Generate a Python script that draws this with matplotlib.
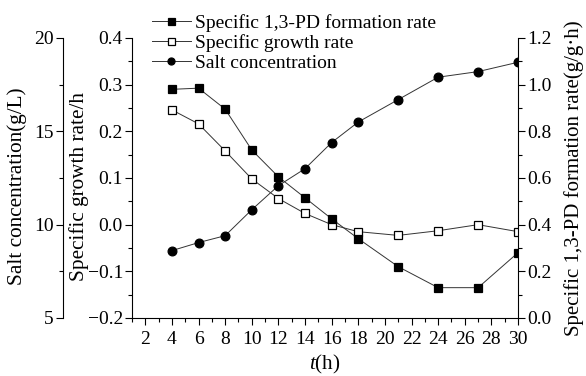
import matplotlib
matplotlib.use("Agg")
import matplotlib.pyplot as plt
from matplotlib.ticker import MultipleLocator
from matplotlib.lines import Line2D

plt.rcParams['font.family'] = ['Liberation Serif', 'DejaVu Serif']
plt.rcParams['mathtext.fontset'] = 'custom'
plt.rcParams['mathtext.it'] = 'Liberation Serif:italic'
plt.rcParams['mathtext.rm'] = 'Liberation Serif'

# data
t = [4, 6, 8, 10, 12, 14, 16, 18, 21, 24, 27, 30]
pd_rate = [0.98, 0.985, 0.895, 0.72, 0.605, 0.515, 0.425, 0.34, 0.22, 0.13, 0.13, 0.28]
growth_rate = [0.246, 0.216, 0.158, 0.098, 0.056, 0.024, 0.0, -0.015, -0.023, -0.013, 0.0, -0.015]
salt = [8.61, 9.04, 9.41, 10.8, 12.09, 13.0, 14.4, 15.5, 16.7, 17.9, 18.2, 18.7]

fs = 14     # ticks and legend
lfs = 15.3  # axis titles
fig = plt.figure(figsize=(5.86, 3.76), dpi=100)
ax = fig.add_axes([132 / 586, 1 - 318 / 376, 386 / 586, 280 / 376])
ax_salt = ax.twinx()
ax_pd = ax.twinx()

line_kw = dict(color='#333333', lw=0.7, markersize=6.3, markeredgecolor='black', markeredgewidth=0.9)

ax_pd.plot(t, pd_rate, marker='s', markerfacecolor='black', **line_kw)
ax.plot(t, growth_rate, marker='s', markerfacecolor='white', zorder=3, **line_kw)
ax_salt.plot(t, salt, marker='o', markerfacecolor='black', **line_kw)

# growth rate axis (inner left)
ax.set_xlim(1, 30)
ax.set_ylim(-0.2, 0.4)
ax.xaxis.set_major_locator(MultipleLocator(2))
ax.xaxis.set_minor_locator(MultipleLocator(1))
ax.yaxis.set_minor_locator(MultipleLocator(0.05))
ax.set_yticks([-0.2, -0.1, 0.0, 0.1, 0.2, 0.3, 0.4])
ax.set_yticklabels(['\u22120.2', '\u22120.1', '0.0', '0.1', '0.2', '0.3', '0.4'])
ax.set_ylabel('Specific growth rate/h', fontsize=lfs, labelpad=-1, y=0.47)
ax.set_xlabel('$t$(h)', fontsize=lfs, labelpad=4)

# salt axis (outer left)
ax_salt.set_ylim(5, 20)
ax_salt.spines['left'].set_position(('axes', (63 - 132) / 386))
ax_salt.spines['left'].set_visible(True)
ax_salt.spines['right'].set_visible(False)
ax_salt.yaxis.set_ticks_position('left')
ax_salt.yaxis.set_label_position('left')
ax_salt.yaxis.set_major_locator(MultipleLocator(5))
ax_salt.yaxis.set_minor_locator(MultipleLocator(2.5))
ax_salt.set_ylabel('Salt concentration(g/L)', fontsize=lfs, labelpad=5, y=0.47)

# 1,3-PD axis (right)
ax_pd.set_ylim(0.0, 1.2)
ax_pd.yaxis.set_major_locator(MultipleLocator(0.2))
ax_pd.yaxis.set_minor_locator(MultipleLocator(0.1))
ax_pd.yaxis.set_major_formatter(plt.FormatStrFormatter('%.1f'))
ax_pd.set_ylabel('Specific 1,3-PD formation rate(g/g\u00b7h)', fontsize=15, labelpad=9)

for a in (ax, ax_salt, ax_pd):
    a.spines['top'].set_visible(False)
    a.tick_params(which='major', direction='out', length=5, width=0.8, labelsize=fs, pad=1.5)
    a.tick_params(which='minor', direction='out', length=3, width=0.8)
ax.tick_params(axis='x', which='major', pad=4)
ax.spines['right'].set_visible(False)
ax_salt.spines['bottom'].set_visible(False)
ax_pd.spines['bottom'].set_visible(False)
ax_pd.spines['left'].set_visible(False)
ax.yaxis.set_ticks_position('left')

handles = [
    Line2D([], [], marker='s', markerfacecolor='black', **line_kw),
    Line2D([], [], marker='s', markerfacecolor='white', **line_kw),
    Line2D([], [], marker='o', markerfacecolor='black', **line_kw),
]
labels = ['Specific 1,3-PD formation rate', 'Specific growth rate', 'Salt concentration']
fig.legend(handles, labels, loc='upper left', bbox_to_anchor=(152 / 586, 1 - 14 / 376),
           frameon=False, fontsize=fs, handlelength=2.0, handletextpad=0.2,
           labelspacing=0.12, borderaxespad=0, borderpad=0, markerscale=0.8)

fig.savefig('out.png', dpi=100)
